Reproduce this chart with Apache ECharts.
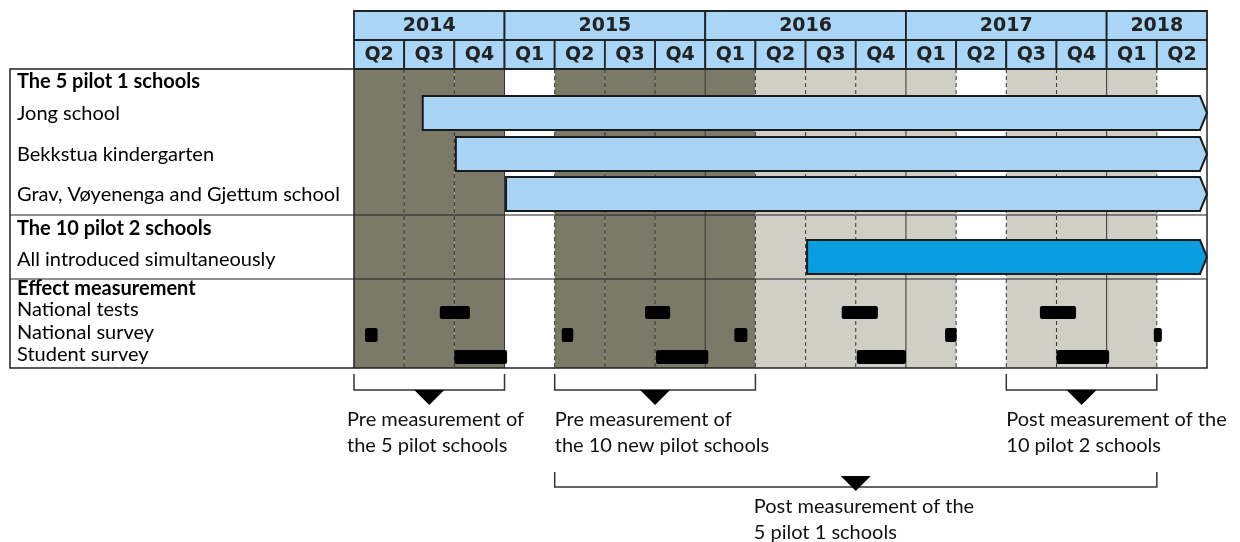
<!DOCTYPE html>
<html>
<head>
<meta charset="utf-8">
<script src="https://cdn.jsdelivr.net/npm/echarts@6/dist/echarts.min.js"></script>
<style>
html, body { margin: 0; padding: 0; background: #fff; }
#main { width: 1240px; height: 542px; }
</style>
</head>
<body>
<div id="main"></div>
<script>
// ---- data (time in quarters counted from the start of 2014 Q2) ----
var years = ['2014', '2015', '2016', '2017', '2018'];
var quartersPerYear = [3, 4, 4, 4, 2];
var quarterLabels = ['Q2', 'Q3', 'Q4', 'Q1', 'Q2', 'Q3', 'Q4', 'Q1', 'Q2', 'Q3', 'Q4', 'Q1', 'Q2', 'Q3', 'Q4', 'Q1', 'Q2'];
// 2 = pre measurement period, 1 = post measurement period, 0 = none
var quarterShade = [2, 2, 2, 0, 2, 2, 2, 2, 1, 1, 1, 1, 0, 1, 1, 1, 0];

var rowLabels = ['The 5 pilot 1 schools', 'Jong school', 'Bekkstua kindergarten', 'Grav, Vøyenenga and Gjettum school',
    'The 10 pilot 2 schools', 'All introduced simultaneously',
    'Effect measurement', 'National tests', 'National survey', 'Student survey'];

var introStart = [1.37, 2.03, 3.03, 9.03];   // Jong, Bekkstua, Grav.., all pilot 2
var introEnd = 17;

var nationalTests = [[1.71, 2.31], [5.8, 6.3], [9.72, 10.44], [13.67, 14.39]];
var nationalSurvey = [[0.22, 0.47], [4.14, 4.37], [7.58, 7.84], [11.78, 12.01], [15.94, 16.1]];
var studentSurvey = [[2.0, 3.05], [6.02, 7.06], [10.02, 11.0], [14.0, 15.05]];

var bracketSpans = [[0, 3], [4, 8], [13, 16], [4, 16]];
var bracketTexts = ['Pre measurement of\nthe 5 pilot schools', 'Pre measurement of\nthe 10 new pilot schools',
    'Post measurement of the\n10 pilot 2 schools', 'Post measurement of the\n5 pilot 1 schools'];

// ---- layout ----
var TOP = 11;                       // grid top in px, y axis counts px below it
var BODY_TOP = 58, BODY_BOT = 357;
var DARK = '#7b7967', LIGHT = '#d0cfc6', HEAD = '#a9d5f6', BAR = '#a9d4f5', BAR2 = '#0a9de0';
var LINE = '#222';
var barRows = [[85, 119], [126, 160], [166, 200], [229, 263]];
var markRows = [[295, 308], [317, 331], [339, 353]];
var labelY = [82, 114, 155, 195, 229, 260, 289, 310, 333, 355];
var boldRow = { 0: 1, 4: 1, 6: 1 };
var textFont = 'Lato';
var headFont = 'bold 19px "DejaVu Sans"';

var yearCells = [], qStart = 0;
years.forEach(function (y, i) {
    yearCells.push([qStart, qStart + quartersPerYear[i], y]);
    qStart += quartersPerYear[i];
});
var yearEdges = yearCells.map(function (c) { return c[1]; });

var myChart = echarts.init(document.getElementById('main'));

function px(api, q, y) { return api.coord([q, y]); }

var option = {
    animation: false,
    grid: { left: 354, right: 33, top: TOP, bottom: 174 },
    xAxis: { type: 'value', min: 0, max: 17, show: false },
    yAxis: { type: 'value', min: 0, max: 357, inverse: true, show: false },
    graphic: [
        { type: 'rect', z: 20, shape: { x: 10, y: 69, width: 1197, height: 299 }, style: { fill: null, stroke: LINE, lineWidth: 1.5 } },
        { type: 'line', z: 20, shape: { x1: 10, y1: 215, x2: 1207, y2: 215 }, style: { stroke: LINE, lineWidth: 1.2 } },
        { type: 'line', z: 20, shape: { x1: 10, y1: 279, x2: 1207, y2: 279 }, style: { stroke: LINE, lineWidth: 1.2 } },
        { type: 'line', z: 20, shape: { x1: 354, y1: 69, x2: 354, y2: 368 }, style: { stroke: LINE, lineWidth: 1.5 } }
    ].concat(rowLabels.map(function (t, i) {
        return {
            type: 'text', z: 20, x: 17, y: labelY[i],
            style: {
                text: t, fill: '#000', verticalAlign: 'middle',
                font: (boldRow[i] ? 'bold ' : '') + '20px ' + textFont
            }
        };
    })),
    series: [
        {   // shaded measurement periods
            type: 'custom', clip: false,
            data: quarterShade.map(function (s, i) { return [i, s]; }),
            renderItem: function (params, api) {
                var q = api.value(0), s = api.value(1);
                if (!s) return null;
                var a = px(api, q, BODY_TOP), b = px(api, q + 1, BODY_BOT);
                return { type: 'rect', shape: { x: a[0], y: a[1], width: b[0] - a[0], height: b[1] - a[1] }, style: { fill: s === 2 ? DARK : LIGHT } };
            }
        },
        {   // quarter grid lines in the body
            type: 'custom', clip: false,
            data: quarterLabels.slice(1).map(function (l, i) { return [i + 1]; }),
            renderItem: function (params, api) {
                var q = api.value(0);
                var solid = yearEdges.indexOf(q) >= 0;
                var a = px(api, q, BODY_TOP), b = px(api, q, BODY_BOT);
                return {
                    type: 'line', shape: { x1: a[0], y1: a[1], x2: b[0], y2: b[1] },
                    style: { stroke: '#333', lineWidth: 1, lineDash: solid ? null : [4, 3] }
                };
            }
        },
        {   // year header
            type: 'custom', clip: false,
            data: yearCells,
            renderItem: function (params, api) {
                var a = px(api, api.value(0), 0), b = px(api, api.value(1), 29);
                return {
                    type: 'group', children: [
                        { type: 'rect', shape: { x: a[0], y: a[1], width: b[0] - a[0], height: b[1] - a[1] }, style: { fill: HEAD, stroke: LINE, lineWidth: 1.8 } },
                        { type: 'text', style: { text: yearCells[params.dataIndex][2], x: (a[0] + b[0]) / 2, y: (a[1] + b[1]) / 2 + 1, align: 'center', verticalAlign: 'middle', font: headFont, fill: '#222' } }
                    ]
                };
            }
        },
        {   // quarter header
            type: 'custom', clip: false,
            data: quarterLabels.map(function (l, i) { return [i, l]; }),
            renderItem: function (params, api) {
                var q = params.dataIndex;
                var a = px(api, q, 29), b = px(api, q + 1, 58);
                return {
                    type: 'group', children: [
                        { type: 'rect', shape: { x: a[0], y: a[1], width: b[0] - a[0], height: b[1] - a[1] }, style: { fill: HEAD, stroke: LINE, lineWidth: 1.8 } },
                        { type: 'text', style: { text: quarterLabels[q], x: (a[0] + b[0]) / 2, y: (a[1] + b[1]) / 2 + 1, align: 'center', verticalAlign: 'middle', font: headFont, fill: '#222' } }
                    ]
                };
            }
        },
        {   // introduction bars
            type: 'custom', clip: false,
            data: introStart.map(function (s, i) { return [s, introEnd, i]; }),
            renderItem: function (params, api) {
                var r = barRows[api.value(2)];
                var a = px(api, api.value(0), r[0]), b = px(api, api.value(1), r[1]);
                var m = (a[1] + b[1]) / 2, tip = 7;
                return {
                    type: 'polygon',
                    shape: { points: [[a[0], a[1]], [b[0] - tip, a[1]], [b[0], m], [b[0] - tip, b[1]], [a[0], b[1]]] },
                    style: { fill: api.value(2) === 3 ? BAR2 : BAR, stroke: '#1a1a1a', lineWidth: 2, lineJoin: 'miter' }
                };
            }
        },
        {   // effect measurements
            type: 'custom', clip: false,
            data: [].concat(
                nationalTests.map(function (d) { return [d[0], d[1], 0]; }),
                nationalSurvey.map(function (d) { return [d[0], d[1], 1]; }),
                studentSurvey.map(function (d) { return [d[0], d[1], 2]; })
            ),
            renderItem: function (params, api) {
                var r = markRows[api.value(2)];
                var a = px(api, api.value(0), r[0]), b = px(api, api.value(1), r[1]);
                return { type: 'rect', shape: { x: a[0], y: a[1], width: b[0] - a[0], height: b[1] - a[1], r: 2 }, style: { fill: '#000' } };
            }
        },
        {   // brackets below the chart
            type: 'custom', clip: false,
            data: bracketSpans.map(function (s, i) { return [s[0], s[1], i]; }),
            renderItem: function (params, api) {
                var i = api.value(2), low = i === 3;
                var top = low ? 461 : 363, line = low ? 476 : 379;
                var a = px(api, api.value(0), top), b = px(api, api.value(1), line);
                var c = (a[0] + b[0]) / 2;
                var tri = low ? [[c - 15, b[1] - 11], [c + 15, b[1] - 11], [c, b[1] + 4]]
                              : [[c - 15, b[1]], [c + 15, b[1]], [c, b[1] + 15]];
                var tx = low ? c - 102 : a[0] + (i === 0 ? -7 : 0);
                var ty = low ? b[1] + 7 : b[1] + 17;
                return {
                    type: 'group', children: [
                        { type: 'polyline', shape: { points: [[a[0], a[1]], [a[0], b[1]], [b[0], b[1]], [b[0], a[1]]] }, style: { stroke: '#333', lineWidth: 1.5, fill: null } },
                        { type: 'polygon', shape: { points: tri }, style: { fill: '#000' } },
                        { type: 'text', style: { text: bracketTexts[i], x: tx, y: ty, align: 'left', verticalAlign: 'top', font: '20px ' + textFont, lineHeight: 26, fill: '#111' } }
                    ]
                };
            }
        }
    ]
};

myChart.setOption(option);
</script>
</body>
</html>
